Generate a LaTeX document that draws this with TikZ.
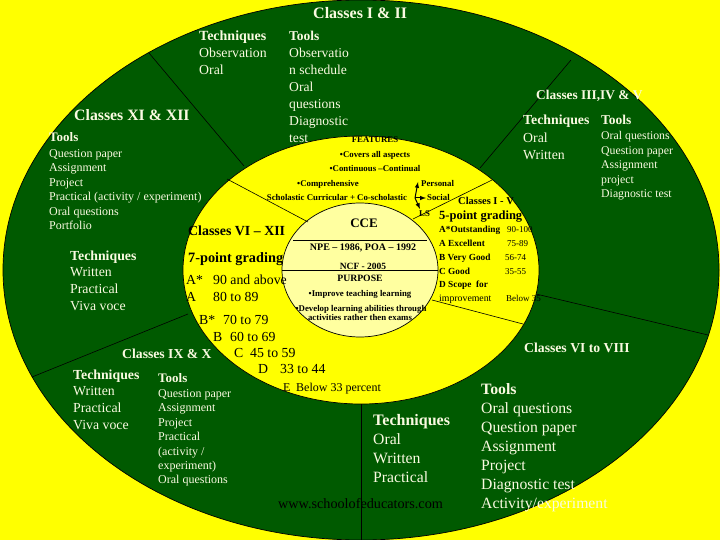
\documentclass[tikz,border=0pt]{standalone}
\usepackage{xcolor}
\usepackage{fontspec}
\setmainfont{Liberation Serif}
\usepackage{tikz}
\definecolor{ringgreen}{RGB}{0,90,0}
\definecolor{ringyellow}{RGB}{255,255,0}
\definecolor{corepale}{RGB}{255,255,160}
\definecolor{chalk}{RGB}{250,250,225}
\tikzset{
  wb/.style={anchor=base west,inner sep=0pt,text=chalk,font=\bfseries\fontsize{#1}{#1}\selectfont},
  wt/.style={anchor=base west,inner sep=0pt,text=chalk,font=\fontsize{#1}{#1}\selectfont},
  kb/.style={anchor=base west,inner sep=0pt,text=black,font=\bfseries\fontsize{#1}{#1}\selectfont},
  kt/.style={anchor=base west,inner sep=0pt,text=black,font=\fontsize{#1}{#1}\selectfont},
  kc/.style={anchor=base,inner sep=0pt,text=black,font=\bfseries\fontsize{#1}{#1}\selectfont},
  divider/.style={draw=black,line width=0.6pt},
  ringline/.style={draw=black,line width=0.7pt},
  branch/.style={draw=black,line width=1pt,-latex}
}
\begin{document}
\begin{tikzpicture}[x=1pt,y=-1pt]
  \useasboundingbox (0,0) rectangle (720,540);
  %background and the three rings
  \fill[ringyellow] (0,0) rectangle (720,540);
  \draw[ringline,fill=ringgreen] (361,270) ellipse (358pt and 270pt);
  \draw[ringline,fill=ringyellow] (361,270) ellipse (178pt and 134pt);
  \draw[ringline,fill=corepale] (360,270) ellipse (78pt and 67pt);

  %outer ring dividers
  \coordinate (oa1) at (149,53);  \coordinate (oa2) at (244,166);
  \coordinate (ob1) at (571,60);  \coordinate (ob2) at (480,168);
  \coordinate (oc1) at (536,294); \coordinate (oc2) at (708,335);
  \coordinate (od1) at (361,404); \coordinate (od2) at (361,540);
  \coordinate (oe1) at (32,377);  \coordinate (oe2) at (188,314);
  \foreach \i in {a,b,c,d,e}{\draw[divider] (o\i1) -- (o\i2);}
  %inner ring dividers
  \coordinate (ia1) at (227,179); \coordinate (ia2) at (308,222);
  \coordinate (ib1) at (492,180); \coordinate (ib2) at (413,219);
  \coordinate (ic1) at (432,300); \coordinate (ic2) at (523,324);
  \foreach \i in {a,b,c}{\draw[divider] (i\i1) -- (i\i2);}
  %lines across the core
  \coordinate (ca1) at (293,240); \coordinate (ca2) at (427,240);
  \coordinate (cb1) at (282,270); \coordinate (cb2) at (438,270);
  \foreach \i in {a,b}{\draw[divider] (c\i1) -- (c\i2);}

  %top sector
  \node[wb=16] (topTitle) at (313,19) {Classes I \& II};
  \node[wb=14] (topTech) at (199,41) {Techniques};
  \foreach \t [count=\n] in {Observation,Oral}{\node[wt=13.8] (topTech\n) at (199,{41+\n*17}) {\t};}
  \node[wb=13.5] (topTool) at (289,41) {Tools};
  \foreach \t [count=\n] in {Observatio,n schedule,Oral,questions,Diagnostic,test}{\node[wt=13.6] (topTool\n) at (289,{41+\n*16.9}) {\t};}

  %upper right sector
  \node[wb=13.4] (urTitle) at (536,100) {Classes III,IV \& V};
  \node[wb=13.8] (urTech) at (523,125) {Techniques};
  \foreach \t [count=\n] in {Oral,Written}{\node[wt=13.8] (urTech\n) at (523,{125+\n*17.5}) {\t};}
  \node[wb=13.5] (urTool) at (601,125) {Tools};
  \foreach \t [count=\n] in {Oral questions,Question paper,Assignment,project,Diagnostic test}{\node[wt=11.8] (urTool\n) at (601,{125+\n*14.6}) {\t};}

  %upper left sector
  \node[wb=15.8] (ulTitle) at (74,121) {Classes XI \& XII};
  \node[wb=13] (ulTool) at (49,142) {Tools};
  \foreach \t [count=\n] in {Question paper,Assignment,Project,Practical (activity / experiment),Oral questions,Portfolio}{\node[wt=12] (ulTool\n) at (49,{143+\n*14.4}) {\t};}
  \node[wb=13.8] (ulTech) at (70,260) {Techniques};
  \foreach \t [count=\n] in {Written,Practical,Viva voce}{\node[wt=13.8] (ulTech\n) at (70,{260+\n*16.7}) {\t};}

  %lower left sector
  \node[wb=13.7] (llTitle) at (122,358) {Classes IX \& X};
  \node[wb=13.8] (llTech) at (73,379) {Techniques};
  \foreach \t [count=\n] in {Written,Practical,Viva voce}{\node[wt=13.8] (llTech\n) at (73,{379+\n*16.7}) {\t};}
  \node[wb=13] (llTool) at (158,382) {Tools};
  \foreach \t [count=\n] in {Question paper,Assignment,Project,Practical,{(activity /},{experiment)},Oral questions}{\node[wt=12] (llTool\n) at (158,{383+\n*14.4}) {\t};}

  %lower right sector
  \node[wb=13.7] (lrTitle) at (524,352) {Classes VI to VIII};
  \node[wb=15.8] (lrTool) at (481,394) {Tools};
  \foreach \t [count=\n] in {Oral questions,Question paper,Assignment,Project,Diagnostic test,Activity/experiment}{\node[wt=15.7] (lrTool\n) at (481,{394+\n*19}) {\t};}
  \node[wb=16] (lrTech) at (373,425) {Techniques};
  \foreach \t [count=\n] in {Oral,Written,Practical}{\node[wt=15.7] (lrTech\n) at (373,{425+\n*19}) {\t};}
  \node[kt=14.2] (lrSite) at (278,508) {www.schoolofeducators.com};

  %grades on the left of the yellow ring
  \node[kb=13.9] (seniorTitle) at (188,236) {Classes VI -- XII};
  \node[kb=14.3] (sevenPoint) at (188,262) {7-point grading};
  \node[kt=13.8] (gradeAs) at (186,284) {A*};    \node[kt=13.8] (markAs) at (213,284) {90 and above};
  \node[kt=13.8] (gradeA) at (186,301) {A};      \node[kt=13.8] (markA) at (213,301) {80 to 89};
  \node[kt=13.8] (gradeBs) at (199,324) {B*};    \node[kt=13.8] (markBs) at (223,324) {70 to 79};
  \node[kt=13.8] (gradeB) at (213,341) {B};      \node[kt=13.8] (markB) at (230,341) {60 to 69};
  \node[kt=13.8] (gradeC) at (234,357) {C};      \node[kt=13.8] (markC) at (250,357) {45 to 59};
  \node[kt=13.8] (gradeD) at (258,373) {D};      \node[kt=13.8] (markD) at (280,373) {33 to 44};
  \node[kt=12] (gradeE) at (283,391) {E};        \node[kt=12] (markE) at (296,391) {Below 33 percent};

  %grades on the right of the yellow ring
  \node[kb=10.5] (juniorTitle) at (458,205) {Classes I - V};
  \node[kb=12.5] (fivePoint) at (439,220) {5-point grading};
  \node[kb=9.3] (rowA1) at (439,233) {A*Outstanding};  \node[kt=9] (valA1) at (507,233) {90-100};
  \node[kb=9.3] (rowA2) at (439,247) {A Excellent};    \node[kt=9] (valA2) at (507,247) {75-89};
  \node[kb=9.3] (rowB) at (439,260) {B Very Good};     \node[kt=9] (valB) at (505,260) {56-74};
  \node[kb=9.3] (rowC) at (439,274) {C Good};          \node[kt=9] (valC) at (505,274) {35-55};
  \node[kb=9.3] (rowD1) at (439,287) {D Scope\ \ for};
  \node[kt=9.8] (rowD2) at (439,301) {improvement};    \node[kt=9] (valD) at (506,301) {Below 35};

  %features at the top of the yellow ring
  \node[kc=8.8] (feat0) at (375,143) {FEATURES};
  \node[kc=8.8] (feat1) at (375,158) {•Covers all aspects};
  \node[kc=8.8] (feat2) at (375,172) {•Continuous --Continual};
  \node[kc=8.8] (feat3) at (328,187) {•Comprehensive};
  \node[kc=8.8] (feat4) at (337,201) {Scholastic Curricular + Co-scholastic};
  \node[kb=8.8] (branchP) at (421,187) {Personal};
  \node[kb=8.8] (branchS) at (427,201) {Social};
  \node[kb=8.8] (branchL) at (419,217) {LS};
  \coordinate (fork) at (415,198);
  \coordinate (tipP) at (418,182);
  \coordinate (tipS) at (426,198);
  \coordinate (tipL) at (420,209);
  \foreach \i in {P,S,L}{\draw[branch] (fork) -- (tip\i);}

  %text in the core
  \node[kc=13] (cce) at (364,227) {CCE};
  \node[kc=10] (policy) at (363,251) {NPE -- 1986, POA -- 1992};
  \node[kc=9.5] (ncf) at (363,269) {NCF - 2005};
  \node[kc=9.7] (purpose) at (360,281) {PURPOSE};
  \node[kc=8.8] (aim1) at (360,296) {•Improve teaching learning};
  \node[kc=8.8] (aim2) at (361,311) {•Develop learning abilities through};
  \node[kc=8.8] (aim3) at (360,320) {activities rather then exams};
\end{tikzpicture}
\end{document}
